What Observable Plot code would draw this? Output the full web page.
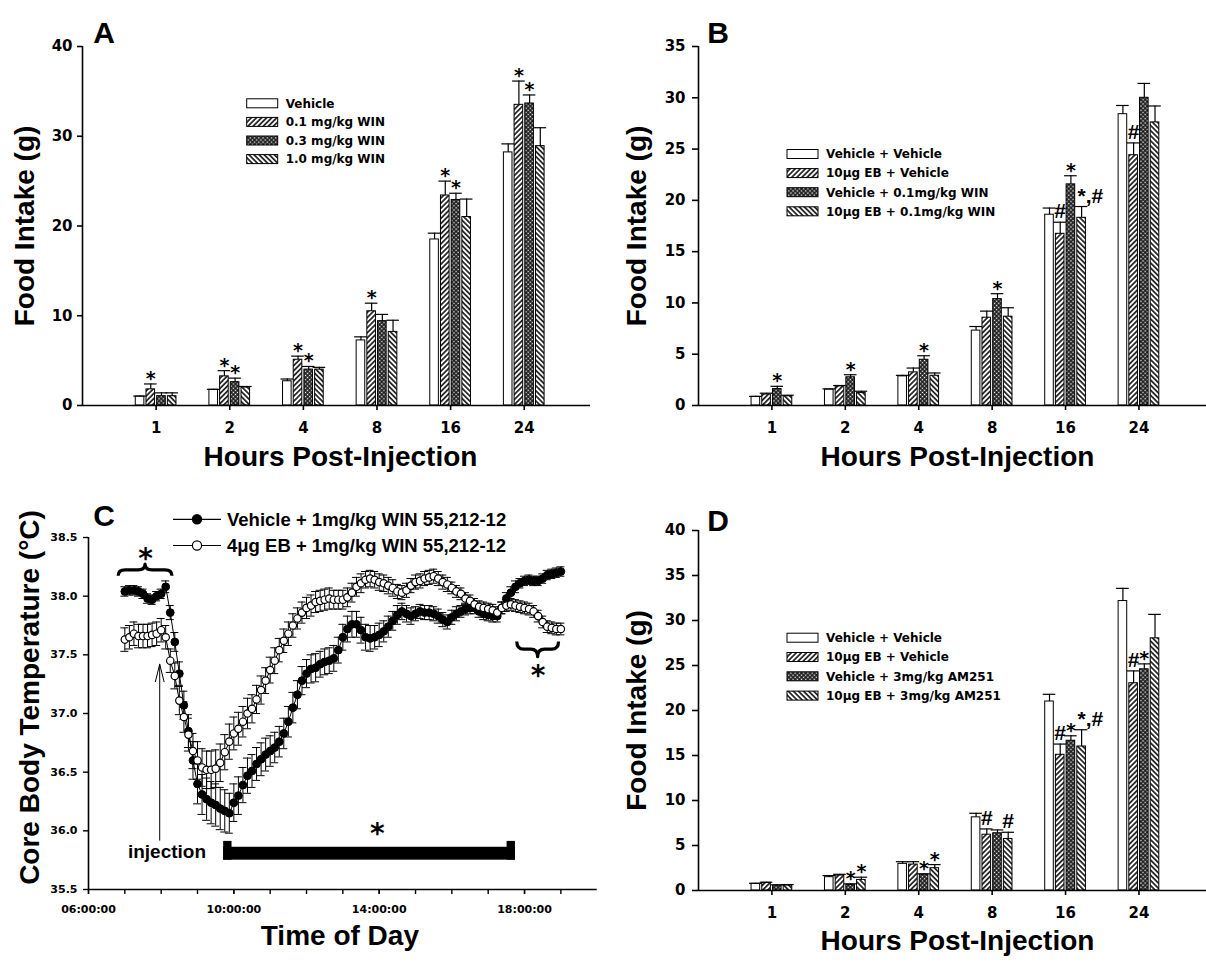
<!DOCTYPE html>
<html><head><meta charset="utf-8">
<script src="https://cdn.jsdelivr.net/npm/d3@7"></script>
<script src="https://cdn.jsdelivr.net/npm/@observablehq/plot@0.6"></script>
<style>
body{margin:0;background:#fff}
#fig{position:relative;width:1206px;height:963px;background:#fff;overflow:hidden}
.panel{position:absolute}
</style></head><body>
<svg width="0" height="0" style="position:absolute">
<defs>
<pattern id="patF" width="3.6" height="3.6" patternUnits="userSpaceOnUse" patternTransform="rotate(45)"><rect width="3.6" height="3.6" fill="white"/><line x1="1.8" y1="0" x2="1.8" y2="3.6" stroke="black" stroke-width="1.5"/></pattern>
<pattern id="patB" width="3.6" height="3.6" patternUnits="userSpaceOnUse" patternTransform="rotate(-45)"><rect width="3.6" height="3.6" fill="white"/><line x1="1.8" y1="0" x2="1.8" y2="3.6" stroke="black" stroke-width="1.5"/></pattern>
<pattern id="patX" width="3" height="3" patternUnits="userSpaceOnUse" patternTransform="rotate(45)"><rect width="3" height="3" fill="#1a1a1a"/><rect x="0.8" y="0.8" width="1.4" height="1.4" fill="white"/></pattern>
</defs></svg>
<div id="fig">
<div class="panel" id="pA" style="left:0;top:0"></div>
<div class="panel" id="pB" style="left:600px;top:0"></div>
<div class="panel" id="pC" style="left:0;top:480px"></div>
<div class="panel" id="pD" style="left:600px;top:480px"></div>
</div>
<script>
// ---------- shared ----------
const hours = ["1", "2", "4", "8", "16", "24"];

// ---------- Panel A ----------
const aGroups = ["Vehicle", "0.1 mg/kg WIN", "0.3 mg/kg WIN", "1.0 mg/kg WIN"];
const aMeans = [
  [1.0, 1.75, 2.7, 7.25, 18.5, 28.2],
  [1.8, 3.25, 5.1, 10.5, 23.4, 33.5],
  [1.04, 2.6, 4.0, 9.4, 22.9, 33.65],
  [1.04, 2.0, 4.0, 8.2, 21.0, 28.9]
];
const aErrors = [
  [0.05, 0.05, 0.25, 0.4, 0.7, 0.95],
  [0.6, 0.63, 0.4, 0.9, 1.6, 2.65],
  [0.37, 0.45, 0.35, 0.75, 0.75, 0.95],
  [0.37, 0.12, 0.25, 1.3, 2.0, 2.05]
];
const aMarks = [
  ["", "", "", "", "", ""],
  ["*", "*", "*", "*", "*", "*"],
  ["", "*", "*", "", "*", "*"],
  ["", "", "", "", "", ""]
];

// ---------- Panel B ----------
const bGroups = ["Vehicle + Vehicle", "10\u03bcg EB + Vehicle", "Vehicle + 0.1mg/kg WIN", "10\u03bcg EB + 0.1mg/kg WIN"];
const bMeans = [
  [0.84, 1.55, 2.84, 7.3, 18.6, 28.4],
  [1.07, 1.87, 3.23, 8.56, 16.74, 24.4],
  [1.6, 2.75, 4.46, 10.37, 21.56, 30.0],
  [0.9, 1.23, 2.9, 8.66, 18.3, 27.6]
];
const bErrors = [
  [0.05, 0.07, 0.1, 0.4, 0.65, 0.85],
  [0.13, 0.08, 0.42, 0.64, 1.13, 1.2],
  [0.27, 0.25, 0.39, 0.53, 0.84, 1.4],
  [0.1, 0.16, 0.27, 0.87, 1.1, 1.6]
];
const bMarks = [
  ["", "", "", "", "", ""],
  ["", "", "", "", "#", "#"],
  ["*", "*", "*", "*", "*", ""],
  ["", "", "", "", "*,#", ""]
];

// ---------- Panel D ----------
const dGroups = ["Vehicle + Vehicle", "10\u03bcg EB + Vehicle", "Vehicle + 3mg/kg AM251", "10\u03bcg EB + 3mg/kg AM251"];
const dMeans = [
  [0.74, 1.48, 2.96, 8.13, 21.0, 32.16],
  [0.85, 1.66, 2.88, 6.2, 15.08, 23.03],
  [0.55, 0.63, 1.77, 6.36, 16.64, 24.58],
  [0.55, 1.18, 2.48, 5.73, 16.0, 28.02]
];
const dErrors = [
  [0.06, 0.18, 0.24, 0.45, 0.8, 1.41],
  [0.07, 0.14, 0.32, 0.64, 1.19, 1.37],
  [0.08, 0.11, 0.08, 0.37, 0.55, 0.6],
  [0.11, 0.3, 0.4, 0.74, 1.86, 2.66]
];
const dMarks = [
  ["", "", "", "", "", ""],
  ["", "", "", "#", "#", "#"],
  ["", "*", "*", "", "*", "*"],
  ["", "*", "*", "#", "*,#", ""]
];

// ---------- Panel C ----------
const cSeries = ["Vehicle + 1mg/kg WIN 55,212-12", "4\u03bcg EB + 1mg/kg WIN 55,212-12"];
const cStartHour = 7, cStepMinutes = 7.5;
const cVehicle = [38.04,38.05,38.05,38.04,38.02,37.98,37.97,38.00,38.02,38.08,
 37.86,37.61,37.34,37.07,36.85,36.60,36.40,36.31,36.27,36.24,
 36.22,36.19,36.17,36.15,36.24,36.30,36.39,36.47,36.51,36.57,
 36.61,36.65,36.68,36.71,36.76,36.83,36.93,37.05,37.16,37.28,
 37.34,37.38,37.39,37.42,37.44,37.45,37.47,37.54,37.65,37.72,
 37.76,37.76,37.71,37.65,37.64,37.65,37.67,37.70,37.74,37.79,
 37.84,37.87,37.85,37.83,37.85,37.87,37.86,37.86,37.85,37.83,
 37.80,37.78,37.82,37.85,37.87,37.89,37.90,37.90,37.87,37.85,
 37.84,37.83,37.83,37.90,37.98,38.03,38.08,38.11,38.13,38.14,
 38.13,38.13,38.15,38.18,38.19,38.20,38.21];
const cVehicleErr = [0.04,0.04,0.04,0.04,0.04,0.04,0.04,0.04,0.04,0.05,
 0.06,0.08,0.10,0.12,0.14,0.16,0.17,0.17,0.18,0.18,
 0.18,0.18,0.18,0.17,0.16,0.16,0.15,0.15,0.14,0.14,
 0.14,0.14,0.13,0.13,0.13,0.13,0.13,0.13,0.12,0.12,
 0.12,0.12,0.12,0.11,0.11,0.11,0.11,0.11,0.11,0.11,
 0.11,0.11,0.11,0.11,0.11,0.10,0.10,0.09,0.09,0.08,
 0.08,0.07,0.07,0.07,0.06,0.06,0.06,0.06,0.06,0.06,
 0.06,0.06,0.06,0.06,0.05,0.05,0.05,0.05,0.05,0.05,
 0.05,0.05,0.05,0.05,0.05,0.05,0.05,0.04,0.04,0.04,
 0.04,0.04,0.04,0.04,0.04,0.04,0.04];
const cEB = [37.63,37.65,37.68,37.66,37.66,37.66,37.67,37.68,37.71,37.65,
 37.45,37.32,37.11,36.97,36.82,36.68,36.60,36.54,36.52,36.52,
 36.53,36.58,36.67,36.76,36.83,36.87,36.93,37.00,37.04,37.12,
 37.20,37.28,37.37,37.45,37.54,37.62,37.68,37.75,37.81,37.86,
 37.90,37.92,37.95,37.96,37.97,37.98,37.97,37.97,37.97,37.99,
 38.03,38.08,38.11,38.14,38.15,38.14,38.12,38.11,38.09,38.07,
 38.04,38.03,38.05,38.09,38.12,38.13,38.15,38.16,38.17,38.15,
 38.12,38.10,38.07,38.04,38.02,37.98,37.96,37.93,37.91,37.90,
 37.89,37.88,37.86,37.90,37.92,37.93,37.92,37.91,37.90,37.89,
 37.87,37.83,37.78,37.74,37.73,37.72,37.72];
const cEBErr = [0.10,0.10,0.10,0.10,0.10,0.10,0.10,0.10,0.10,0.10,
 0.10,0.11,0.12,0.13,0.14,0.15,0.16,0.16,0.16,0.16,
 0.16,0.16,0.15,0.15,0.14,0.14,0.13,0.13,0.12,0.12,
 0.12,0.11,0.11,0.11,0.10,0.10,0.10,0.10,0.09,0.09,
 0.09,0.09,0.09,0.09,0.09,0.09,0.08,0.08,0.08,0.08,
 0.08,0.08,0.08,0.07,0.07,0.07,0.07,0.07,0.07,0.07,
 0.06,0.06,0.06,0.06,0.06,0.06,0.06,0.06,0.06,0.06,
 0.06,0.06,0.05,0.05,0.05,0.05,0.05,0.05,0.05,0.05,
 0.05,0.05,0.05,0.05,0.05,0.05,0.05,0.05,0.05,0.05,
 0.05,0.05,0.05,0.05,0.05,0.05,0.05];
const cYTicks = [35.5, 36.0, 36.5, 37.0, 37.5, 38.0, 38.5];
const cMajorHours = [6, 10, 14, 18];
const cMinorHours = [6, 7, 8, 9, 10, 11, 12, 13, 14, 15, 16, 17, 18, 19];
const cStars = [{t: 7.57, T: 38.38}, {t: 13.95, T: 36.03}, {t: 18.37, T: 37.38}];
const cBraces = [{t1: 6.83, t2: 8.31, end: 38.17, tip: 38.27}, {t1: 17.8, t2: 18.95, end: 37.61, tip: 37.48}];
const cSigBar = [{t1: 9.72, t2: 17.75, lo: 35.75, hi: 35.86}];
const cSigPosts = [{t1: 9.72, t2: 9.95, lo: 35.75, hi: 35.91}, {t1: 17.52, t2: 17.75, lo: 35.75, hi: 35.91}];
const cInjection = [{t: 7.96, from: 35.92, to: 37.42, label: "injection", labelT: 8.16, labelY: 35.82}];

// ---------- helpers ----------
const FILLS = ["white", "url(#patF)", "url(#patX)", "url(#patB)"];
const SANS = "Liberation Sans, Arial, sans-serif";
const TICKF = "DejaVu Sans, sans-serif";

function barLegend(labels, x0, y0, dy) {
  return () => {
    const g = d3.create("svg:g");
    labels.forEach((lab, i) => {
      const cy = y0 + i * dy;
      g.append("rect").attr("x", x0).attr("y", cy - 4.5).attr("width", 31).attr("height", 9)
        .attr("fill", FILLS[i]).attr("stroke", "black").attr("stroke-width", 1);
      g.append("text").attr("x", x0 + 39).attr("y", cy).attr("dy", "0.36em")
        .attr("text-anchor", "start")
        .attr("font-family", TICKF).attr("font-weight", "bold").attr("font-size", 12)
        .attr("fill", "black").text(lab);
    });
    return g.node();
  };
}

function barPanel(cfg) {
  const {means, errors, marks, groups, width, height, ml, mr, mt, mb, xMax, yMax, yTicks} = cfg;
  const ppu = (width - ml - mr) / xMax;
  const step = 10.7 / ppu, bw = 8.6 / ppu, cap = 6.3 / ppu;
  const rows = [];
  groups.forEach((g, gi) => hours.forEach((h, hi) => rows.push({
    gi, xc: hi + 1 + (gi - 1.5) * step,
    mean: means[gi][hi], top: means[gi][hi] + errors[gi][hi], mark: marks[gi][hi]
  })));
  const bold = {fontWeight: "bold", fill: "black"};
  return Plot.plot({
    width, height, marginLeft: ml, marginRight: mr, marginTop: mt, marginBottom: mb,
    x: {domain: [0, xMax], label: null},
    y: {domain: [0, yMax], label: null},
    style: {background: "white", color: "black", overflow: "visible"},
    marks: [
      ...groups.map((g, gi) => Plot.rect(rows.filter(r => r.gi === gi), {
        x1: r => r.xc - bw / 2, x2: r => r.xc + bw / 2, y1: 0, y2: "mean",
        fill: FILLS[gi], stroke: "black", strokeWidth: 1
      })),
      Plot.ruleX(rows, {x: "xc", y1: "mean", y2: "top", stroke: "black", strokeWidth: 1.2}),
      Plot.ruleY(rows, {y: "top", x1: r => r.xc - cap, x2: r => r.xc + cap, stroke: "black", strokeWidth: 1.2}),
      Plot.ruleY([0], {stroke: "black", strokeWidth: 1.6}),
      Plot.ruleX([0], {stroke: "black", strokeWidth: 1.6}),
      Plot.axisY({ticks: yTicks, tickSize: cfg.tickSize, tickPadding: cfg.tickPad, fontFamily: TICKF, fontSize: 15, ...bold, stroke: "black", strokeWidth: 1.6, label: null}),
      Plot.axisX({ticks: [1, 2, 3, 4, 5, 6], tickFormat: i => hours[i - 1], tickSize: 5, tickPadding: 12, fontFamily: TICKF, fontSize: 15, ...bold, stroke: "black", strokeWidth: 1.6, label: null}),
      Plot.text(rows.filter(r => r.mark === "*"), {x: "xc", y: "top", text: "mark", fontFamily: TICKF, fontSize: 19, ...bold, lineAnchor: "bottom", dy: 1}),
      Plot.text(rows.filter(r => r.mark === "#"), {x: "xc", y: "top", text: "mark", fontFamily: SANS, fontSize: 21, ...bold, lineAnchor: "bottom", dy: -4}),
      Plot.text(rows.filter(r => r.mark.length > 1), {x: "xc", y: "top", text: "mark", fontFamily: SANS, fontSize: 21, ...bold, lineAnchor: "bottom", textAnchor: "start", dx: -4, dy: -4}),
      Plot.text([cfg.letter], {text: d => d, frameAnchor: "top-left", dx: cfg.letterDx, dy: cfg.letterDy, fontFamily: SANS, fontSize: 30, ...bold, textAnchor: "middle", lineAnchor: "bottom"}),
      Plot.text(["Food Intake (g)"], {text: d => d, frameAnchor: "left", rotate: -90, dx: cfg.yTitleDx, fontFamily: SANS, fontSize: 28, ...bold, textAnchor: "middle", lineAnchor: "middle"}),
      Plot.text(["Hours Post-Injection"], {text: d => d, frameAnchor: "bottom", dx: cfg.xTitleDx, dy: cfg.xTitleDy, fontFamily: SANS, fontSize: 28, ...bold, textAnchor: "middle", lineAnchor: "middle"}),
      barLegend(groups, cfg.legendX, cfg.legendY, cfg.legendDy)
    ]
  });
}

document.getElementById("pA").append(barPanel({
  means: aMeans, errors: aErrors, marks: aMarks, groups: aGroups,
  width: 600, height: 480, ml: 82, mr: 10, mt: 46, mb: 75, xMax: 6.9, yMax: 40,
  yTicks: [0, 10, 20, 30, 40], tickSize: 5, tickPad: 5,
  letter: "A", letterDx: 21.5, letterDy: -4, yTitleDx: -57, xTitleDx: 4, xTitleDy: 52,
  legendX: 246.7, legendY: 103.3, legendDy: 18.6
}));
document.getElementById("pB").append(barPanel({
  means: bMeans, errors: bErrors, marks: bMarks, groups: bGroups,
  width: 606, height: 480, ml: 98, mr: 0, mt: 46, mb: 75, xMax: 6.92, yMax: 35,
  yTicks: [0, 5, 10, 15, 20, 25, 30, 35], tickSize: 6, tickPad: 7,
  letter: "B", letterDx: 19.5, letterDy: -4, yTitleDx: -61, xTitleDx: 5, xTitleDy: 52,
  legendX: 187, legendY: 154, legendDy: 19.1
}));
document.getElementById("pD").append(barPanel({
  means: dMeans, errors: dErrors, marks: dMarks, groups: dGroups,
  width: 606, height: 483, ml: 98, mr: 0, mt: 50, mb: 73, xMax: 6.92, yMax: 40,
  yTicks: [0, 5, 10, 15, 20, 25, 30, 35, 40], tickSize: 6, tickPad: 7,
  letter: "D", letterDx: 19.5, letterDy: 0, yTitleDx: -61, xTitleDx: 5, xTitleDy: 51,
  legendX: 187, legendY: 157.7, legendDy: 19.3
}));

// ---------- Panel C ----------
(function () {
  const data = cVehicle.map((v, i) => ({
    t: cStartHour + i * cStepMinutes / 60,
    F: v, FE: cVehicleErr[i], O: cEB[i], OE: cEBErr[i]
  }));
  const width = 600, height = 483, ml = 88, mr = 3.3, mt = 57, mb = 74;
  const pph = (width - ml - mr) / 14;
  const cap = 4 / pph;
  const bold = {fontWeight: "bold", fill: "black"};
  const hfmt = h => String(h).padStart(2, "0") + ":00:00";
  const errMarks = (key, ekey) => [
    Plot.ruleX(data, {x: "t", y1: d => d[key] - d[ekey], y2: d => d[key] + d[ekey], stroke: "black", strokeWidth: 1}),
    Plot.ruleY(data, {y: d => d[key] + d[ekey], x1: d => d.t - cap, x2: d => d.t + cap, stroke: "black", strokeWidth: 1}),
    Plot.ruleY(data, {y: d => d[key] - d[ekey], x1: d => d.t - cap, x2: d => d.t + cap, stroke: "black", strokeWidth: 1})
  ];
  const braces = (index, scales) => {
    const g = d3.create("svg:g").attr("fill", "none").attr("stroke", "black")
      .attr("stroke-width", 3.2).attr("stroke-linejoin", "round");
    for (const b of cBraces) {
      const x1 = scales.x(b.t1), x2 = scales.x(b.t2), ye = scales.y(b.end), yt = scales.y(b.tip);
      const xm = (x1 + x2) / 2, ym = (ye + yt) / 2, r = Math.min(7, (x2 - x1) / 6);
      g.append("path").attr("d",
        `M${x1},${ye}Q${x1},${ym} ${x1 + r},${ym}L${xm - r},${ym}Q${xm},${ym} ${xm},${yt}` +
        `Q${xm},${ym} ${xm + r},${ym}L${x2 - r},${ym}Q${x2},${ym} ${x2},${ye}`);
    }
    return g.node();
  };
  const legend = () => {
    const g = d3.create("svg:g");
    cSeries.forEach((lab, i) => {
      const cy = 39.3 + i * 26.2;
      g.append("line").attr("x1", 173).attr("x2", 221).attr("y1", cy).attr("y2", cy).attr("stroke", "black").attr("stroke-width", 1.2);
      g.append("circle").attr("cx", 197).attr("cy", cy).attr("r", 4.6)
        .attr("fill", i === 0 ? "black" : "white").attr("stroke", "black").attr("stroke-width", 1.2);
      g.append("text").attr("x", 227).attr("y", cy).attr("dy", "0.36em")
        .attr("text-anchor", "start")
        .attr("font-family", SANS).attr("font-weight", "bold").attr("font-size", 18.5)
        .attr("fill", "black").text(lab);
    });
    return g.node();
  };
  const svg = Plot.plot({
    width, height, marginLeft: ml, marginRight: mr, marginTop: mt, marginBottom: mb,
    x: {domain: [6, 20], label: null},
    y: {domain: [35.5, 38.5], label: null},
    style: {background: "white", color: "black", overflow: "visible"},
    marks: [
      ...errMarks("F", "FE"),
      Plot.line(data, {x: "t", y: "F", stroke: "black", strokeWidth: 1}),
      Plot.dot(data, {x: "t", y: "F", r: 3.9, fill: "black", stroke: "black", strokeWidth: 1}),
      ...errMarks("O", "OE"),
      Plot.line(data, {x: "t", y: "O", stroke: "black", strokeWidth: 1}),
      Plot.dot(data, {x: "t", y: "O", r: 3.7, fill: "white", stroke: "black", strokeWidth: 1.2}),
      Plot.rect(cSigBar, {x1: "t1", x2: "t2", y1: "lo", y2: "hi", fill: "black"}),
      Plot.rect(cSigPosts, {x1: "t1", x2: "t2", y1: "lo", y2: "hi", fill: "black"}),
      Plot.text(cStars, {x: "t", y: "T", text: () => "*", fontFamily: TICKF, fontSize: 28, ...bold, lineAnchor: "middle", dy: 7}),
      braces,
      Plot.arrow(cInjection, {x1: "t", y1: "from", x2: "t", y2: "to", stroke: "black", strokeWidth: 1, headLength: 27, headAngle: 28}),
      Plot.text(cInjection, {x: "labelT", y: "labelY", text: "label", fontFamily: SANS, fontSize: 19, ...bold, lineAnchor: "middle"}),
      Plot.ruleY([35.5], {stroke: "black", strokeWidth: 1.6}),
      Plot.ruleX([6], {stroke: "black", strokeWidth: 1.6}),
      Plot.axisY({ticks: cYTicks, tickFormat: d3.format(".1f"), tickSize: 5, tickPadding: 6, fontFamily: TICKF, fontSize: 11, ...bold, stroke: "black", strokeWidth: 1.4, label: null}),
      Plot.axisX({ticks: cMinorHours, tickFormat: () => "", tickSize: 5, stroke: "black", strokeWidth: 1.4, label: null}),
      Plot.axisX({ticks: cMajorHours, tickFormat: hfmt, tickSize: 5, tickPadding: 11, fontFamily: TICKF, fontSize: 11, ...bold, stroke: "black", strokeWidth: 1.4, label: null}),
      Plot.text(["C"], {text: d => d, frameAnchor: "top-left", dx: 15.5, dy: -12, fontFamily: SANS, fontSize: 30, ...bold, textAnchor: "middle", lineAnchor: "bottom"}),
      Plot.text(["Core Body Temperature (\u00b0C)"], {text: d => d, frameAnchor: "left", rotate: -90, dx: -58, dy: -16, fontFamily: SANS, fontSize: 28, ...bold, textAnchor: "middle", lineAnchor: "middle"}),
      Plot.text(["Time of Day"], {text: d => d, frameAnchor: "bottom", dx: -3, dy: 47, fontFamily: SANS, fontSize: 28, ...bold, textAnchor: "middle", lineAnchor: "middle"}),
      legend
    ]
  });
  document.getElementById("pC").append(svg);
})();
</script>
</body></html>
